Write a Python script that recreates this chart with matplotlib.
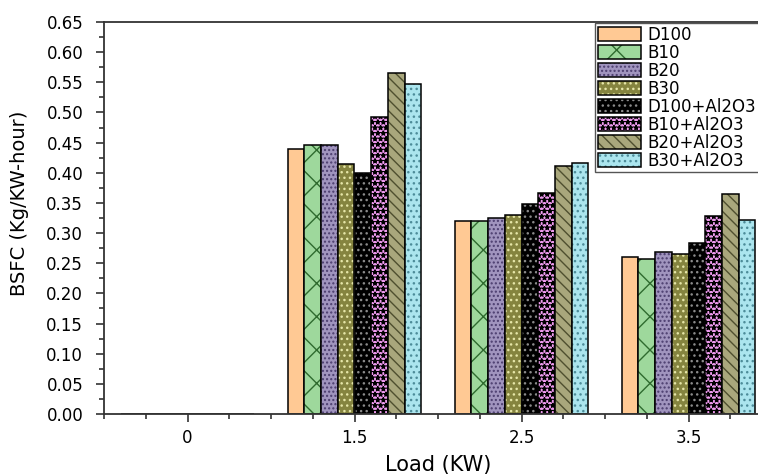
import matplotlib
matplotlib.use("Agg")
import numpy as np
import matplotlib.pyplot as plt
import matplotlib.patches as mpatches
from matplotlib.ticker import MultipleLocator
from matplotlib.legend_handler import HandlerTuple

plt.rcParams['font.family'] = ['DejaVu Sans']
plt.rcParams['hatch.linewidth'] = 1.0

# ==========================================
# data
# ==========================================
loads = ["0", "1.5", "2.5", "3.5"]
series = ["D100", "B10", "B20", "B30",
          "D100+Al2O3", "B10+Al2O3", "B20+Al2O3", "B30+Al2O3"]

d100 = [0.0, 0.440, 0.320, 0.261]
b10 = [0.0, 0.446, 0.320, 0.257]
b20 = [0.0, 0.446, 0.325, 0.269]
b30 = [0.0, 0.414, 0.330, 0.265]
d100_al = [0.0, 0.400, 0.349, 0.283]
b10_al = [0.0, 0.493, 0.366, 0.328]
b20_al = [0.0, 0.565, 0.411, 0.365]
b30_al = [0.0, 0.547, 0.417, 0.321]
values = [d100, b10, b20, b30, d100_al, b10_al, b20_al, b30_al]

# fill colour, hatch pattern, hatch colour
fills = ["#FFC994", "#9ED89C", "#A094BE", "#85843F",
         "#000000", "#EE9AEE", "#A9A77C", "#ABE5EE"]
hatches = [None, "x", "....", "...", "...", "***", "\\\\\\", "..."]
hatch_colors = [None, "#2F6B2F", "#4B3D6E", "#E6E6A8",
                "#8A8A8A", "#000000", "#4F4F2F", "#4D8C99"]

# ==========================================
# figure: axes run past the right edge like the source image
# ==========================================
W, H = 758, 475
fig = plt.figure(figsize=(W / 100, H / 100), dpi=100)
ax_l, ax_r, ax_t, ax_b = 104, 772, 22, 414
ax = fig.add_axes([ax_l / W, 1 - ax_b / H, (ax_r - ax_l) / W, (ax_b - ax_t) / H])

x = np.arange(len(loads))
bar_w = 0.1
handles = []
for i, name in enumerate(series):
    xs = x + (i - 3.5) * bar_w
    ax.bar(xs, values[i], bar_w, color=fills[i], edgecolor="none", linewidth=0)
    parts = [mpatches.Patch(facecolor=fills[i], edgecolor="none", linewidth=0)]
    if hatches[i]:
        ax.bar(xs, values[i], bar_w, facecolor="none", edgecolor=hatch_colors[i],
               hatch=hatches[i], linewidth=0)
        parts.append(mpatches.Patch(facecolor="none", edgecolor=hatch_colors[i],
                                    hatch=hatches[i], linewidth=0))
    ax.bar(xs, values[i], bar_w, facecolor="none", edgecolor="black", linewidth=1.1)
    parts.append(mpatches.Patch(facecolor="none", edgecolor="black", linewidth=1.1))
    handles.append(tuple(parts))

# ==========================================
# axes styling
# ==========================================
ax.set_xlim(-0.5, 3.5)
ax.set_ylim(0, 0.65)
ax.set_xticks(x)
ax.set_xticklabels(loads)
ax.xaxis.set_minor_locator(MultipleLocator(0.25))
ax.yaxis.set_major_locator(MultipleLocator(0.05))
ax.yaxis.set_minor_locator(MultipleLocator(0.025))
ax.yaxis.set_major_formatter(plt.FuncFormatter(lambda v, p: f"{v:.2f}"))

for s in ax.spines.values():
    s.set_color("#333333")
    s.set_linewidth(1.3)

ax.tick_params(axis="both", which="major", direction="out", length=6,
               width=1.2, color="#333333", labelsize=12)
ax.tick_params(axis="both", which="minor", direction="out", length=3.5,
               width=1.2, color="#333333")
ax.tick_params(axis="x", which="major", pad=5)
ax.tick_params(axis="y", which="major", pad=9)

ax.set_xlabel("Load (KW)", fontsize=15)
ax.xaxis.set_label_coords(0.5, -0.105)
ax.set_ylabel("BSFC (Kg/KW-hour)", fontsize=14)
ax.yaxis.set_label_coords(-0.113, 0.538)

leg = ax.legend(handles, series, handler_map={tuple: HandlerTuple(ndivide=1)},
                loc="upper left", bbox_to_anchor=(595 / W, 1 - 23 / H),
                bbox_transform=fig.transFigure, borderaxespad=0,
                fontsize=12, handlelength=2.6, handleheight=0.9,
                handletextpad=0.42, labelspacing=0.0, borderpad=0.15,
                fancybox=False, framealpha=1)
leg.get_frame().set_edgecolor("#555555")
leg.get_frame().set_linewidth(1.0)

fig.savefig("out.png", dpi=100)
